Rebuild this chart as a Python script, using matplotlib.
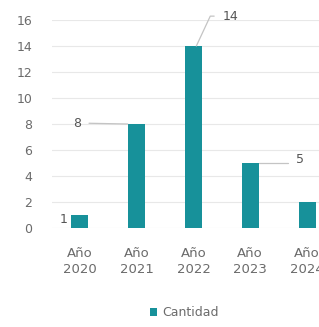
import matplotlib
matplotlib.use("Agg")
import matplotlib.pyplot as plt
from matplotlib.patches import Patch

categories = ["Año\n2020", "Año\n2021", "Año\n2022", "Año\n2023", "Año\n2024"]
values = [1, 8, 14, 5, 2]
yticks = [0, 2, 4, 6, 8, 10, 12, 14, 16]
series_name = "Cantidad"

bar_color = "#17919a"
text_color = "#6b6b6b"
grid_color = "#e8e8e8"
leader_color = "#c4c4c4"

fig = plt.figure(figsize=(3.19, 3.27), dpi=100)
ax = fig.add_axes([51.6 / 319, 99 / 327, 283.8 / 319, 208 / 327])

x = list(range(len(categories)))
ax.bar(x, values, width=0.3, color=bar_color, zorder=3)
ax.set_xlim(-0.5, len(categories) - 0.5)
ax.set_ylim(0, 16)
ax.set_yticks(yticks)
ax.set_xticks(x)
ax.set_xticklabels(categories, fontsize=9.5, color=text_color, linespacing=1.25)
ax.tick_params(axis="y", labelsize=9, colors=text_color, length=0, pad=14)
ax.tick_params(axis="x", length=0, pad=14)
ax.grid(axis="y", color=grid_color, linewidth=0.8, zorder=0)
for s in ax.spines.values():
    s.set_visible(False)

# data labels with leader lines
offsets = [(-12, -2.9), (-36.7, 0.7), (24.5, 21.5), (29.5, 2.2), (None, None)]
styles = [None, "arc3", "angle,angleA=0,angleB=65", "angle,angleA=60,angleB=0", None]
xy_shift = [0, -0.16, 0.05, 0.16, 0]
for i, v in enumerate(values):
    off = offsets[i]
    if off[0] is None:
        continue
    if styles[i] is None:
        ax.annotate(str(v), xy=(i, v), xytext=off, textcoords="offset points",
                    ha="center", va="center", fontsize=9, color="#555555")
    else:
        ax.annotate(str(v), xy=(i + xy_shift[i], v), xytext=off, textcoords="offset points",
                    ha="center", va="center", fontsize=9, color="#555555",
                    arrowprops=dict(arrowstyle="-", color=leader_color, lw=0.9,
                                    shrinkA=4, shrinkB=0,
                                    connectionstyle=styles[i]))

handle = Patch(facecolor=bar_color, edgecolor="none", label=series_name)
fig.legend(handles=[handle], loc="center", bbox_to_anchor=(184 / 319, 14 / 327),
           frameon=False, fontsize=9, labelcolor=text_color,
           handlelength=0.6, handleheight=0.6, handletextpad=0.4)

fig.savefig("out.png", dpi=100)
